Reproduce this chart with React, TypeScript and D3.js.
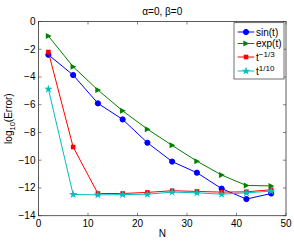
import React from "react";
import * as d3 from "d3";

const Ns = [2, 7, 12, 17, 22, 27, 32, 37, 42, 47];
const sinVals = [-2.4, -3.86, -5.9, -7.06, -8.74, -10.1, -10.9, -12.05, -12.8, -12.4];
const expVals = [-1.05, -3.26, -4.94, -6.44, -7.76, -8.93, -10.07, -11.07, -11.82, -11.85];
const t13Vals = [-2.2, -9.05, -12.4, -12.4, -12.32, -12.2, -12.25, -12.3, -12.28, -12.13];
const t110Vals = [-4.87, -12.47, -12.5, -12.48, -12.45, -12.3, -12.35, -12.45, -12.35, -12.23];
const xTicks = [0, 10, 20, 30, 40, 50];
const yTicks = [0, -2, -4, -6, -8, -10, -12, -14];

const series = [
  { name: "sin", values: sinVals, color: "#0000ff", marker: "circle" },
  { name: "exp", values: expVals, color: "#008000", marker: "tri" },
  { name: "t13", values: t13Vals, color: "#ff0000", marker: "square" },
  { name: "t110", values: t110Vals, color: "#00bfbf", marker: "star" },
];

const W = 294, H = 241;
const L = 38.5, R = 286, T = 21.5, B = 215.7;
const font = "Liberation Sans, Arial, sans-serif";

function Marker({ type, x, y, color }: { type: string; x: number; y: number; color: string }) {
  if (type === "circle") return <circle cx={x} cy={y} r={2.6} fill={color} stroke={color} />;
  if (type === "square") return <rect x={x - 2.3} y={y - 2.3} width={4.6} height={4.6} fill={color} />;
  if (type === "tri") {
    const p = `${x - 2.6},${y - 3} ${x + 3.2},${y} ${x - 2.6},${y + 3}`;
    return <polygon points={p} fill={color} />;
  }
  const sym = d3.symbol(d3.symbolStar, 22)();
  return <path d={sym || ""} transform={`translate(${x},${y})`} fill={color} />;
}

export default function App() {
  const x = d3.scaleLinear().domain([0, 50]).range([L, R]);
  const y = d3.scaleLinear().domain([0, -14]).range([T, B]);
  const line = d3.line<number>().x((_, i) => x(Ns[i])).y((d) => y(d));
  const axisColor = "#333";
  const legend = [
    { s: series[0], label: <tspan>sin(t)</tspan>, yy: 32 },
    { s: series[1], label: <tspan>exp(t)</tspan>, yy: 43.5 },
    { s: series[2], label: <><tspan>t</tspan><tspan dy={-4} fontSize={8}>−1/3</tspan></>, yy: 57 },
    { s: series[3], label: <><tspan>t</tspan><tspan dy={-4} fontSize={8}>1/10</tspan></>, yy: 71 },
  ];
  return (
    <svg width={W} height={H} style={{ position: "absolute", left: 0, top: 0, background: "#fff" }} fontFamily={font}>
      <rect x={0} y={0} width={W} height={H} fill="#fff" />
      <text x={(L + R) / 2} y={15} fontSize={10} textAnchor="middle">α=0, β=0</text>
      {xTicks.map((t) => (
        <g key={"x" + t}>
          <line x1={x(t)} x2={x(t)} y1={B} y2={B - 3} stroke={axisColor} strokeWidth={0.6} />
          <line x1={x(t)} x2={x(t)} y1={T} y2={T + 3} stroke={axisColor} strokeWidth={0.6} />
          <text x={x(t)} y={B + 11.5} fontSize={10} textAnchor="middle">{t}</text>
        </g>
      ))}
      {yTicks.map((t) => (
        <g key={"y" + t}>
          <line x1={L} x2={L + 3} y1={y(t)} y2={y(t)} stroke={axisColor} strokeWidth={0.6} />
          <line x1={R} x2={R - 3} y1={y(t)} y2={y(t)} stroke={axisColor} strokeWidth={0.6} />
          <text x={L - 3} y={y(t) + 3.5} fontSize={10} textAnchor="end">{t === 0 ? "0" : "−" + Math.abs(t)}</text>
        </g>
      ))}
      <rect x={L} y={T} width={R - L} height={B - T} fill="none" stroke={axisColor} strokeWidth={0.8} />
      {series.map((s) => (
        <g key={s.name}>
          <path d={line(s.values) || ""} fill="none" stroke={s.color} strokeWidth={1} />
          {s.values.map((v, i) => (
            <Marker key={i} type={s.marker} x={x(Ns[i])} y={y(v)} color={s.color} />
          ))}
        </g>
      ))}
      <text x={(L + R) / 2} y={237} fontSize={10} textAnchor="middle">N</text>
      <text transform={`translate(12,${(T + B) / 2}) rotate(-90)`} fontSize={10} textAnchor="middle">
        <tspan>log</tspan><tspan dy={2.5} fontSize={7.5}>10</tspan><tspan dy={-2.5}>(Error)</tspan>
      </text>
      <rect x={234} y={22.7} width={50} height={56.3} fill="#fff" stroke={axisColor} strokeWidth={0.7} />
      {legend.map((e) => (
        <g key={e.s.name}>
          <line x1={237.7} x2={254.3} y1={e.yy} y2={e.yy} stroke={e.s.color} strokeWidth={1} />
          <Marker type={e.s.marker} x={246} y={e.yy} color={e.s.color} />
          <text x={256} y={e.yy + 3.5} fontSize={10}>{e.label}</text>
        </g>
      ))}
    </svg>
  );
}
